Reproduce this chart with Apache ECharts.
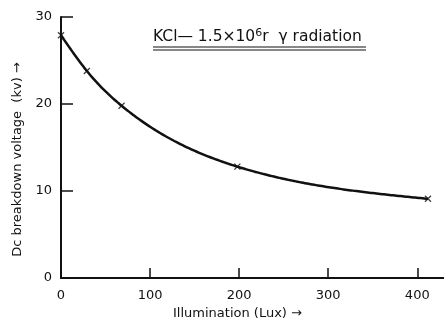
<!DOCTYPE html>
<html>
<head>
<meta charset="utf-8">
<script src="https://cdn.jsdelivr.net/npm/echarts@6/dist/echarts.min.js"></script>
<style>
  html, body { margin: 0; padding: 0; background: #fff; }
  #chart { width: 444px; height: 325px; }
</style>
</head>
<body>
<div id="chart"></div>
<script>
// Illumination (Lux) vs Dc breakdown voltage (kv)
const illumination = [0, 29, 68, 198, 412];
const voltage = [27.9, 23.8, 19.8, 12.8, 9.1];
const xTicks = [0, 100, 200, 300, 400];
const yTicks = [0, 10, 20, 30];

const FONT = 'DejaVu Sans, sans-serif';
const INK = '#111';

const points = illumination.map((x, i) => [x, voltage[i]]);

// natural cubic spline second derivatives, so the drawn curve bends smoothly
// through the measured points (ECharts' own smoothing kinks on uneven spacing)
function splineM(xs, ys) {
  const n = xs.length;
  const h = [], a = [], b = [], c = [], d = [];
  for (let i = 0; i < n - 1; i++) h.push(xs[i + 1] - xs[i]);
  const m = new Array(n).fill(0);
  for (let i = 1; i < n - 1; i++) {
    a.push(h[i - 1]);
    b.push(2 * (h[i - 1] + h[i]));
    c.push(h[i]);
    d.push(6 * ((ys[i + 1] - ys[i]) / h[i] - (ys[i] - ys[i - 1]) / h[i - 1]));
  }
  // thomas algorithm
  const k = b.length;
  for (let i = 1; i < k; i++) {
    const w = a[i] / b[i - 1];
    b[i] -= w * c[i - 1];
    d[i] -= w * d[i - 1];
  }
  const sol = new Array(k);
  sol[k - 1] = d[k - 1] / b[k - 1];
  for (let i = k - 2; i >= 0; i--) sol[i] = (d[i] - c[i] * sol[i + 1]) / b[i];
  for (let i = 0; i < k; i++) m[i + 1] = sol[i];
  return m;
}

function splineAt(xs, ys, m, x) {
  let i = 0;
  while (i < xs.length - 2 && x > xs[i + 1]) i++;
  const h = xs[i + 1] - xs[i];
  const t1 = xs[i + 1] - x, t0 = x - xs[i];
  return m[i] * t1 * t1 * t1 / (6 * h) + m[i + 1] * t0 * t0 * t0 / (6 * h)
    + (ys[i] / h - m[i] * h / 6) * t1 + (ys[i + 1] / h - m[i + 1] * h / 6) * t0;
}

const M = splineM(illumination, voltage);

const chart = echarts.init(document.getElementById('chart'));

const option = {
  animation: false,
  backgroundColor: '#fff',
  grid: { left: 61, right: 0, top: 17, bottom: 44 },
  xAxis: {
    type: 'value',
    min: 0,
    max: 430,
    interval: 100,
    name: 'Illumination (Lux) \u2192',
    nameLocation: 'middle',
    nameGap: 29,
    nameTextStyle: { fontFamily: FONT, fontSize: 13, color: INK, padding: [0, 30, 0, 0] },
    axisLine: { show: true, lineStyle: { color: INK, width: 2 } },
    axisTick: { show: true, inside: true, length: 10, customValues: xTicks, lineStyle: { color: INK, width: 1.5 } },
    axisLabel: {
      fontFamily: FONT, fontSize: 13, color: INK, margin: 11,
      customValues: xTicks
    },
    splitLine: { show: false }
  },
  yAxis: {
    type: 'value',
    min: 0,
    max: 30,
    interval: 10,
    name: 'Dc breakdown voltage  (kv) \u2192',
    nameLocation: 'middle',
    nameGap: 32,
    nameRotate: 90,
    nameTextStyle: { fontFamily: FONT, fontSize: 13, color: INK, padding: [0, 24, 0, 0] },
    axisLine: { show: true, lineStyle: { color: INK, width: 2 } },
    axisTick: { show: true, inside: true, length: 12, customValues: yTicks, lineStyle: { color: INK, width: 1.5 } },
    axisLabel: {
      fontFamily: FONT, fontSize: 13, color: INK, margin: 9,
      customValues: yTicks
    },
    splitLine: { show: false }
  },
  title: {
    text: 'KCl\u2014 1.5\u00d710{sup|6}r  \u03b3 radiation',
    left: 148,
    top: 23,
    textStyle: {
      fontFamily: FONT, fontSize: 15.5, fontWeight: 'normal', color: INK,
      rich: { sup: { fontFamily: FONT, fontSize: 11, color: INK, verticalAlign: 'top', padding: [0, 0, 7, 0] } }
    }
  },
  graphic: [
    { type: 'line', shape: { x1: 153, y1: 47, x2: 366, y2: 47 }, style: { stroke: INK, lineWidth: 1.2 } },
    { type: 'line', shape: { x1: 153, y1: 50, x2: 366, y2: 50 }, style: { stroke: INK, lineWidth: 1.2 } }
  ],
  series: [
    {
      // the fitted curve, drawn once from all points through the axis scales
      type: 'custom',
      data: points,
      renderItem: (params, api) => {
        if (params.dataIndex !== 0) return null;
        const x0 = illumination[0], x1 = illumination[illumination.length - 1];
        const pts = [];
        for (let s = 0; s <= 200; s++) {
          const x = x0 + (x1 - x0) * s / 200;
          pts.push(api.coord([x, splineAt(illumination, voltage, M, x)]));
        }
        return {
          type: 'polyline',
          shape: { points: pts },
          style: { stroke: INK, lineWidth: 2.5, fill: null }
        };
      },
      z: 2
    },
    {
      type: 'scatter',
      data: points,
      symbol: 'path://M0,0L10,10M10,0L0,10',
      symbolSize: 6,
      itemStyle: { color: 'none', borderColor: INK, borderWidth: 1.3 },
      z: 3
    }
  ]
};

chart.setOption(option);
</script>
</body>
</html>
